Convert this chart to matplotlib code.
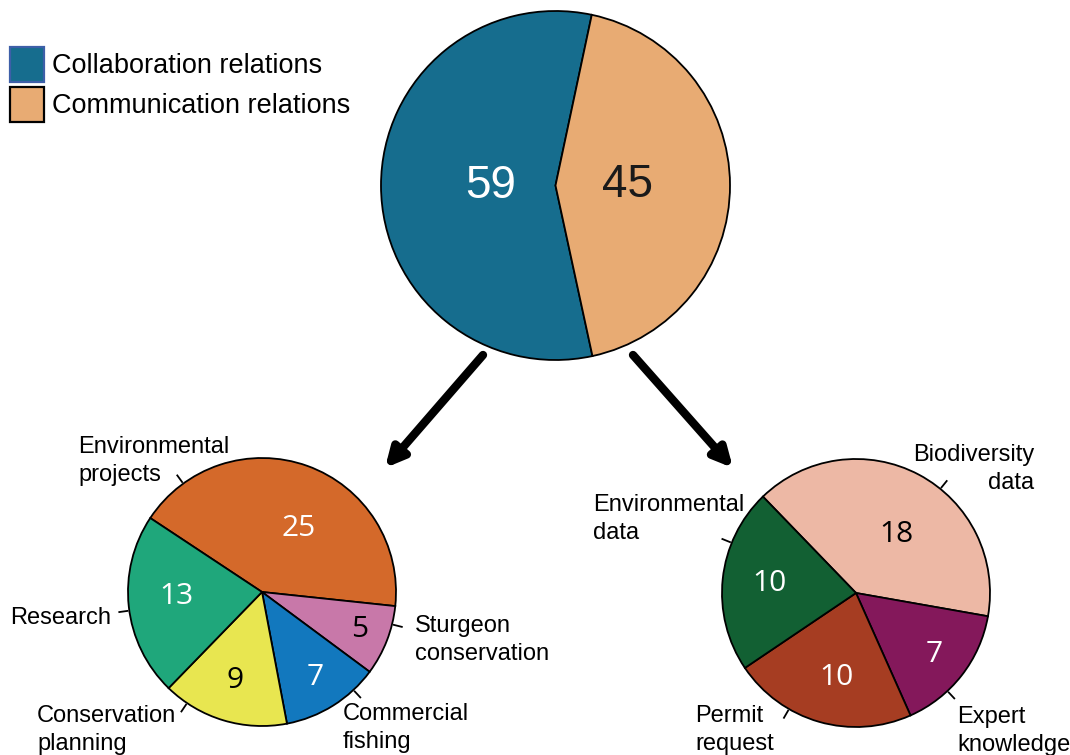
import numpy as np
import matplotlib
matplotlib.use("Agg")
import matplotlib.pyplot as plt
from matplotlib.patches import Rectangle

# ---------------- data ----------------
top_labels = ["Collaboration relations", "Communication relations"]
top_values = [59, 45]
top_colors = ["#166D8E", "#E8AB73"]

collab_labels = ["Environmental\nprojects", "Sturgeon\nconservation", "Commercial\nfishing",
                 "Conservation\nplanning", "Research"]
collab_values = [25, 5, 7, 9, 13]
collab_colors = ["#D4692A", "#C878A9", "#1278BE", "#E8E650", "#1FA77B"]

comm_labels = ["Biodiversity\ndata", "Expert\nknowledge", "Permit\nrequest", "Environmental\ndata"]
comm_values = [18, 7, 10, 10]
comm_colors = ["#EDB8A5", "#84185B", "#A63D22", "#126033"]

# ---------------- layout (pixel coordinates, y from top) ----------------
W, H = 1070, 755
fig = plt.figure(figsize=(W / 100, H / 100), dpi=100)
ax = fig.add_axes([0, 0, 1, 1])


def P(x, y):
    return (x, H - y)


edge = dict(edgecolor="black", linewidth=1.3)
sans = ["Liberation Sans", "DejaVu Sans"]
open_sans = ["Open Sans", "DejaVu Sans"]


def draw_pie(values, colors, center, radius, start, ccw, num_colors, num_dist, num_shift,
             num_font, num_size):
    wedges, _ = ax.pie(values, colors=colors, startangle=start, counterclock=ccw,
                       center=center, radius=radius, wedgeprops=edge, frame=True)
    for w, v, c, d, s in zip(wedges, values, num_colors, num_dist, num_shift):
        mid = np.deg2rad((w.theta1 + w.theta2) / 2 + s)
        x = center[0] + d * radius * np.cos(mid)
        y = center[1] + d * radius * np.sin(mid)
        ax.text(x, y, str(v), color=c, ha="center", va="center",
                fontsize=num_size, family=num_font)
    return wedges


# top pie
top_c = P(555.5, 185.5)
draw_pie(top_values, top_colors, top_c, 174.5, 78, True,
         ["white", "#1a1a1a"], [0.37, 0.41], [0, 0], sans, 33)

# left pie
lc = P(262, 592)
lr = 134
draw_pie(collab_values, collab_colors, lc, lr, 146.5, False,
         ["white", "black", "white", "black", "white"],
         [0.55, 0.78, 0.75, 0.69, 0.64], [-10, 0, 0, 0, -3], open_sans, 21.5)

# right pie
rc = P(856, 593)
rr = 134
draw_pie(comm_values, comm_colors, rc, rr, 134, False,
         ["black", "white", "white", "white"],
         [0.53, 0.74, 0.65, 0.65], [-7, 0, 3, 0], open_sans, 21.5)

# label tick lines and texts
collab_tick_ang = [126, -14, -47, 236, 188]
collab_text_pos = [(78, 461, "left"), (415, 640, "left"), (343, 728, "left"),
                   (37, 730, "left"), (111, 618, "right")]
comm_tick_ang = [51, -47, 240, 158]
comm_text_pos = [(1034, 469, "right"), (957, 731, "left"), (695, 730, "left"),
                 (593, 519, "left")]


def draw_labels(center, radius, labels, angles, positions):
    for lab, a, (tx, ty, ha) in zip(labels, angles, positions):
        t = np.deg2rad(a)
        r0, r1 = radius + 1, radius + 11
        ax.plot([center[0] + r0 * np.cos(t), center[0] + r1 * np.cos(t)],
                [center[1] + r0 * np.sin(t), center[1] + r1 * np.sin(t)],
                color="black", lw=1.3, solid_capstyle="butt")
        x, y = P(tx, ty)
        ax.text(x, y, lab, ha=ha, va="center", fontsize=17, family=sans,
                multialignment=ha, linespacing=1.35)


draw_labels(lc, lr, collab_labels, collab_tick_ang, collab_text_pos)
draw_labels(rc, rr, comm_labels, comm_tick_ang, comm_text_pos)

# arrows
for (x0, y0), (x1, y1) in [((483, 355), (385, 468)), ((633, 355), (733, 468))]:
    ax.annotate("", xy=P(x1, y1), xytext=P(x0, y0),
                arrowprops=dict(arrowstyle="-|>,head_length=1.1,head_width=0.55",
                                color="black", lw=6, shrinkA=0, shrinkB=0))

# legend
leg_y = [66, 106]
leg_edge = ["#3D5FA8", "black"]
for lab, col, ec, y in zip(top_labels, top_colors, leg_edge, leg_y):
    x0, y0 = P(9.5, y + 15.5)
    ax.add_patch(Rectangle((x0, y0), 34.5, 34.5, facecolor=col, edgecolor=ec, lw=1.6))
    x, yy = P(52, y)
    ax.text(x, yy, lab, ha="left", va="center", fontsize=19.5, family=sans)

ax.set_xlim(0, W)
ax.set_ylim(0, H)
ax.set_aspect("equal", adjustable="box")
ax.axis("off")
fig.savefig("out.png", dpi=100, facecolor="white")
